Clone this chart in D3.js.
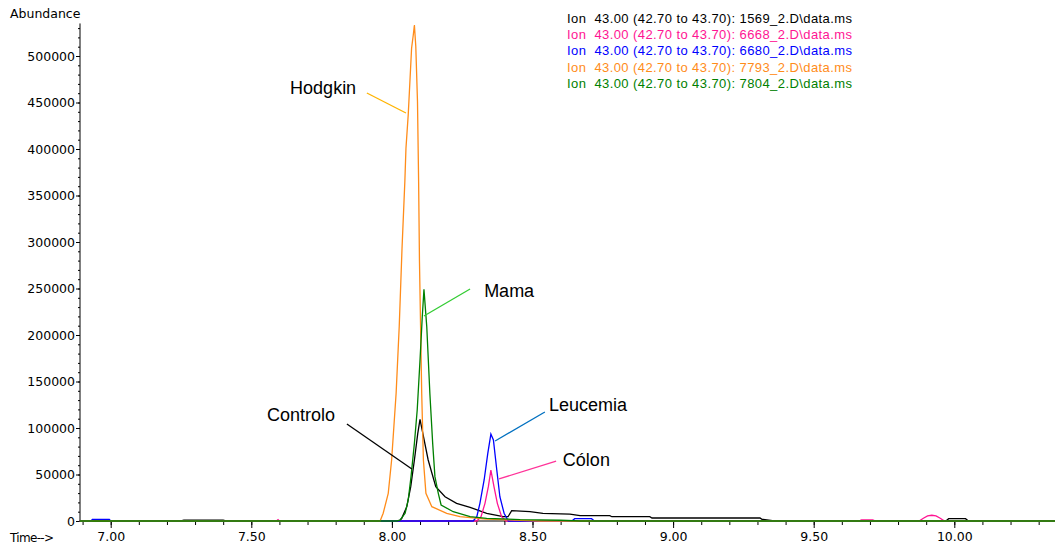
<!--
Chromatogram, ion 43 traces for five samples
-->
<html>
<head>
<meta charset="utf-8">
<style>
  body { margin: 0; background: #fff; }
  text { font-family: "DejaVu Sans", sans-serif; }
</style>
</head>
<body>
<script src="https://d3js.org/d3.v7.min.js"></script>
<script>
// data: [time (min), abundance]
var controlo = [[6.89,0],[7.25,0],[7.26,800],[7.40,800],[7.41,0],[8.026,0],[8.035,2900],[8.053,15400],[8.067,36900],
  [8.080,65600],[8.092,94300],[8.100,109300],[8.110,94300],[8.129,65600],[8.156,36900],[8.189,26100],[8.230,19000],
  [8.278,14700],[8.337,8300],[8.396,4600],[8.413,4600],[8.426,11100],[8.491,10000],[8.537,8300],[8.633,7300],
  [8.669,5700],[8.775,5700],[8.782,4600],[8.917,4600],[8.925,3200],[9.309,3200],[9.316,1800],[9.32,1800],[9.36,0],
  [9.97,0],[9.98,2500],[10.04,2500],[10.05,0],[10.36,0]];
var colon = [[6.89,0],[6.93,0],[6.94,1200],[6.99,1200],[7.00,0],[7.59,0],[7.595,1500],[7.60,0],[8.302,0],[8.317,4600],
  [8.331,19000],[8.343,36900],[8.352,54800],[8.363,36900],[8.375,19000],[8.390,4600],[8.406,0],[9.66,0],[9.67,1200],
  [9.71,1200],[9.72,0],[9.875,0],[9.89,3000],[9.905,5500],[9.92,6200],[9.935,5500],[9.95,3000],[9.965,0],[10.36,0]];
var leucemia = [[6.89,0],[6.93,0],[6.935,1800],[6.995,1800],[7.00,0],[8.289,0],[8.302,4600],[8.313,19000],[8.328,44100],
  [8.341,72800],[8.352,93500],[8.361,87100],[8.373,54800],[8.384,26100],[8.399,8300],[8.414,0],[8.64,0],[8.65,2500],
  [8.71,2500],[8.72,0],[10.36,0]];
var hodgkin = [[6.89,0],[7.958,0],[7.969,8300],[7.987,29800],[7.999,65600],[8.015,137300],[8.026,208900],[8.036,293200],
  [8.041,329000],[8.046,364800],[8.050,400800],[8.058,436600],[8.064,472400],[8.070,508300],[8.076,522600],[8.080,533300],
  [8.085,510000],[8.091,450900],[8.095,365000],[8.098,280000],[8.102,208900],[8.106,137300],[8.112,65600],[8.121,29800],
  [8.142,15400],[8.195,8300],[8.242,4600],[8.335,2000],[8.456,800],[8.527,0],[10.36,0]];
var mama = [[6.89,0],[8.017,0],[8.029,1000],[8.047,8300],[8.058,22600],[8.068,47700],[8.080,83500],[8.090,119400],
  [8.100,173100],[8.108,219700],[8.114,249100],[8.124,208900],[8.135,137300],[8.145,83500],[8.153,47700],[8.165,29800],
  [8.175,17200],[8.218,10000],[8.278,4600],[8.337,2900],[8.456,1500],[8.598,800],[8.669,0],[10.36,0]];

var seriesNames = ["1569_2.D", "6668_2.D", "6680_2.D", "7793_2.D", "7804_2.D"];
var seriesColors = ["#000000", "#ff1493", "#0000ff", "#ff8c1a", "#008000"];
var seriesData = [controlo, colon, leucemia, hodgkin, mama];

var xMajor = [7.0, 7.5, 8.0, 8.5, 9.0, 9.5, 10.0];
var yMajor = d3.range(0, 500001, 50000);

// annotations: label, text anchor [t, v], leader from [t, v] to [t, v]
var noteLabels = ["Hodgkin", "Mama", "Controlo", "Leucemia", "Cólon"];
var noteText = [[7.638,459100],[8.328,240900],[7.556,107500],[8.559,118300],[8.608,59100]];
var noteFrom = [[7.911,460200],[8.278,249500],[7.840,104300],[8.544,117200],[8.584,64500]];
var noteTo = [[8.050,438700],[8.114,220400],[8.071,55900],[8.367,86000],[8.381,45200]];
var noteColors = ["#ffb400", "#33cc33", "#000000", "#0070c0", "#ff3399"];

var width = 1055, height = 549;

var svg = d3.select("body").append("svg")
  .attr("width", width)
  .attr("height", height);

var x = d3.scaleLinear().domain([7, 10]).range([110.7, 954.3]);
var y = d3.scaleLinear().domain([0, 500000]).range([521, 56]);

// axes
var yAxis = svg.append("g")
  .attr("transform", "translate(80,0)")
  .call(d3.axisLeft(y).tickValues(yMajor).tickSize(4).tickPadding(1).tickFormat(d3.format("d")));
yAxis.select(".domain").remove();
svg.append("g")
  .attr("transform", "translate(80,0)")
  .call(d3.axisLeft(y).tickValues(d3.range(0, 530001, 10000)).tickSize(2).tickFormat(""))
  .select(".domain").remove();
svg.append("line")
  .attr("x1", 80).attr("x2", 80)
  .attr("y1", y(0)).attr("y2", y(535000))
  .attr("stroke", "#000");

var xAxis = svg.append("g")
  .attr("transform", "translate(0," + y(0) + ")")
  .call(d3.axisBottom(x).tickValues(xMajor).tickSize(7).tickPadding(4).tickFormat(d3.format(".2f")));
xAxis.select(".domain").remove();
svg.append("g")
  .attr("transform", "translate(0," + y(0) + ")")
  .call(d3.axisBottom(x).tickValues(d3.range(6.9, 10.35, 0.1)).tickSize(4).tickFormat(""))
  .select(".domain").remove();
svg.append("line")
  .attr("x1", 80).attr("x2", 1053)
  .attr("y1", y(0)).attr("y2", y(0))
  .attr("stroke", "#000");

svg.selectAll(".tick text")
  .style("font-family", "'DejaVu Sans', sans-serif")
  .style("font-size", "12.5px")
  .attr("fill", "#000");

svg.append("text").attr("x", 10).attr("y", 18).style("font-size", "12.5px").text("Abundance");
svg.append("text").attr("x", 10).attr("y", 542).style("font-size", "12px")
  .attr("textLength", 44).text("Time-->");

// traces
var line = d3.line()
  .x(d => x(d[0]))
  .y(d => y(d[1]));

seriesData.forEach((d, i) => {
  svg.append("path")
    .datum(d)
    .attr("d", line)
    .attr("fill", "none")
    .attr("stroke", seriesColors[i])
    .attr("stroke-width", 1.3);
});

// legend
seriesNames.forEach((name, i) => {
  svg.append("text")
    .attr("x", 567)
    .attr("y", 22.5 + i * 16.4)
    .attr("fill", seriesColors[i])
    .attr("textLength", 285)
    .attr("lengthAdjust", "spacing")
    .style("font-family", "'Liberation Sans', Arial, sans-serif")
    .style("font-size", "13px")
    .style("white-space", "pre")
    .text("Ion  43.00 (42.70 to 43.70): " + name + "\\data.ms");
});

// annotations
noteLabels.forEach((label, i) => {
  svg.append("line")
    .attr("x1", x(noteFrom[i][0])).attr("y1", y(noteFrom[i][1]))
    .attr("x2", x(noteTo[i][0])).attr("y2", y(noteTo[i][1]))
    .attr("stroke", noteColors[i])
    .attr("stroke-width", 1.3);
  svg.append("text")
    .attr("x", x(noteText[i][0]))
    .attr("y", y(noteText[i][1]))
    .style("font-family", "'Liberation Sans', Arial, sans-serif")
    .style("font-size", "18px")
    .text(label);
});
</script>
</body>
</html>
